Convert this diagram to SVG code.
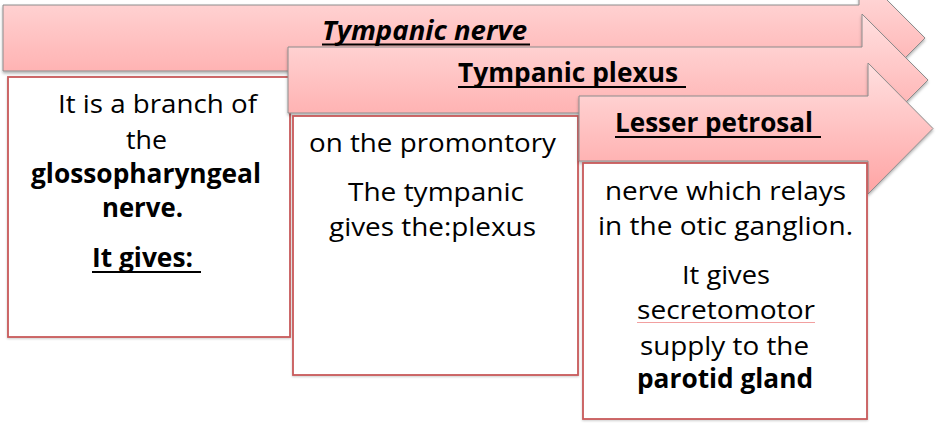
<svg xmlns="http://www.w3.org/2000/svg" width="937" height="428" viewBox="0 0 937 428">
<defs>
<linearGradient id="pink" x1="0" y1="0" x2="0" y2="1">
<stop offset="0" stop-color="#ffe0e0"/>
<stop offset="1" stop-color="#ffa4a4"/>
</linearGradient>
<filter id="sh" x="-5%" y="-5%" width="110%" height="115%">
<feDropShadow dx="0" dy="2" stdDeviation="1.5" flood-color="#000" flood-opacity="0.3"/>
</filter>
<filter id="bsh" x="-5%" y="-5%" width="110%" height="110%">
<feDropShadow dx="0" dy="1" stdDeviation="1" flood-color="#000" flood-opacity="0.2"/>
</filter>
</defs>
<style>
.arrow{fill:url(#pink);stroke:#8c8c8c;stroke-width:1;filter:url(#sh)}
.box{fill:#fff;stroke:#c8595a;stroke-width:1.8;filter:url(#bsh)}
text{font-family:"Open Sans","Liberation Sans",sans-serif;font-size:26px;fill:#000}
.b{font-weight:bold}
.bi{font-weight:bold;font-style:italic}
.ul{stroke:#000;stroke-width:2}
.spell{stroke:#f2a0a0;stroke-width:1}
</style>
<rect width="937" height="428" fill="#fff"/>

<g id="arrow-tympanic-nerve">
<path class="arrow" d="M3,5 H859 V-28 L925,38 L859,104 V71 H3 Z"/>
<text class="bi" x="322" y="40" textLength="205" lengthAdjust="spacingAndGlyphs">Tympanic nerve</text>
<line class="ul" x1="322" y1="44.5" x2="530" y2="44.5"/>
</g>

<g id="box-branch">
<rect class="box" x="8" y="77" width="282" height="260"/>
<text x="58" y="113" textLength="199" lengthAdjust="spacingAndGlyphs">It is a branch of</text>
<text x="126" y="149" textLength="41" lengthAdjust="spacingAndGlyphs">the</text>
<text class="b" x="31" y="183" textLength="230" lengthAdjust="spacingAndGlyphs">glossopharyngeal</text>
<text class="b" x="102" y="217" textLength="81" lengthAdjust="spacingAndGlyphs">nerve.</text>
<text class="b" x="92" y="267" textLength="101" lengthAdjust="spacingAndGlyphs">It gives:</text>
<line class="ul" x1="92" y1="272" x2="201" y2="272"/>
</g>

<g id="arrow-tympanic-plexus">
<path class="arrow" d="M288,47 H862 V14 L928,80 L862,146 V113 H288 Z"/>
<text class="b" x="458" y="82" textLength="220" lengthAdjust="spacingAndGlyphs">Tympanic plexus</text>
<line class="ul" x1="458" y1="87" x2="686" y2="87"/>
</g>

<g id="box-promontory">
<rect class="box" x="293" y="116" width="285" height="259"/>
<text x="309" y="152" textLength="247" lengthAdjust="spacingAndGlyphs">on the promontory</text>
<text x="348" y="201" textLength="176" lengthAdjust="spacingAndGlyphs">The tympanic</text>
<text x="329" y="236" textLength="207" lengthAdjust="spacingAndGlyphs">gives the:plexus</text>
</g>

<g id="arrow-lesser-petrosal">
<path class="arrow" d="M579,96 H868 V63 L933,128.5 L868,194 V161 H579 Z"/>
<text class="b" x="615" y="132" textLength="198" lengthAdjust="spacingAndGlyphs">Lesser petrosal</text>
<line class="ul" x1="615" y1="137" x2="821" y2="137"/>
</g>

<g id="box-otic">
<rect class="box" x="583" y="163" width="284" height="256"/>
<text x="605" y="200" textLength="241" lengthAdjust="spacingAndGlyphs">nerve which relays</text>
<text x="598" y="235" textLength="255" lengthAdjust="spacingAndGlyphs">in the otic ganglion.</text>
<text x="682" y="284" textLength="88" lengthAdjust="spacingAndGlyphs">It gives</text>
<text x="637" y="319" textLength="178" lengthAdjust="spacingAndGlyphs">secretomotor</text>
<line class="spell" x1="637" y1="322.5" x2="815" y2="322.5"/>
<text x="640" y="355" textLength="169" lengthAdjust="spacingAndGlyphs">supply to the</text>
<text class="b" x="637" y="388" textLength="176" lengthAdjust="spacingAndGlyphs">parotid gland</text>
</g>
</svg>
